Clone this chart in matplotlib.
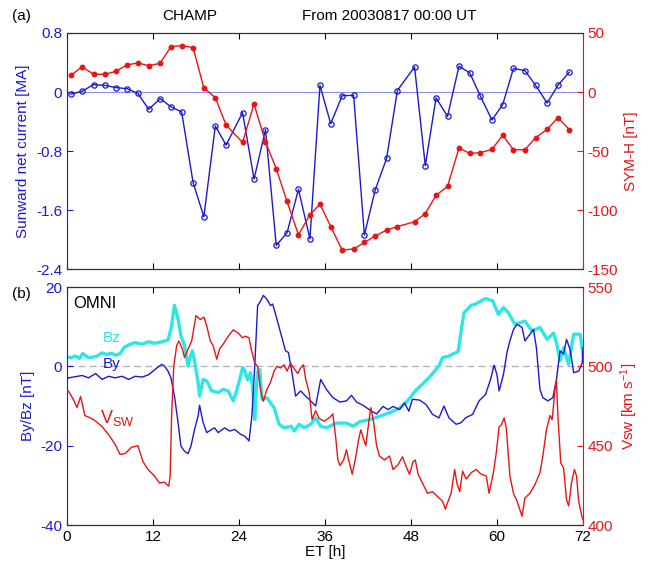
import numpy as np
import matplotlib
matplotlib.use('Agg')
import matplotlib.pyplot as plt

plt.rcParams['font.family'] = ['Liberation Sans', 'DejaVu Sans']
plt.rcParams['axes.unicode_minus'] = False
plt.rcParams['mathtext.fontset'] = 'custom'
plt.rcParams['mathtext.rm'] = 'Liberation Sans'
plt.rcParams['mathtext.it'] = 'Liberation Sans:italic'

# CHAMP orbit values (ET in hours)
champ_t = [0.56, 2.1, 3.7, 5.3, 6.8, 8.4, 9.9, 11.4, 13.0, 14.5, 16.0, 17.6, 19.1, 20.7, 22.2,
           24.5, 26.1, 27.7, 29.2, 30.7, 32.3, 33.9, 35.3, 36.8, 38.4, 40.0, 41.5, 43.0, 44.6,
           46.1, 48.5, 50.0, 51.5, 53.1, 54.7, 56.2, 57.7, 59.3, 60.8, 62.3, 63.9, 65.4, 67.0,
           68.5, 70.1]
net_current = [-0.03, 0.01, 0.10, 0.09, 0.06, 0.045, -0.02, -0.235, -0.09, -0.2, -0.27, -1.23,
               -1.69, -0.46, -0.72, -0.28, -1.18, -0.51, -2.08, -1.91, -1.32, -1.99, 0.09, -0.43,
               -0.05, -0.045, -1.94, -1.33, -0.90, 0.02, 0.34, -1.0, -0.08, -0.33, 0.35, 0.26,
               -0.06, -0.38, -0.17, 0.32, 0.29, 0.09, -0.15, 0.09, 0.27]
symh = [14.1, 21.5, 15, 15, 17.5, 23, 24.6, 22.3, 24.3, 38.4, 39.3, 37.6, 3.4, -4.8, -28,
        -42.7, -10.2, -42.4, -65, -92.7, -121, -104, -95, -114, -134, -133, -127.5, -122,
        -117, -114, -110, -103, -87.5, -80, -47.5, -52, -51.4, -48.6, -36.7, -48.9, -48.9,
        -38.7, -31.6, -21.8, -31.9]

# OMNI series as (ET, value)
bz_pts = [(0, 2.3), (0.6, 2.2), (1.2, 2.6), (1.7, 2.0), (2.2, 3.2), (3.0, 2.2), (3.6, 2.3),
          (4.2, 2.6), (4.9, 3.4), (5.5, 3.0), (6.2, 3.3), (6.8, 2.8), (7.4, 3.2), (8.0, 4.8),
          (8.6, 5.4), (9.5, 6.0), (10.5, 5.6), (11.4, 6.2), (12.2, 5.8), (13.2, 6.2), (14.1, 6.6),
          (14.5, 9.3), (15.0, 15.4), (15.5, 11.9), (15.9, 7.7), (16.4, 5.2), (16.9, 0.1),
          (17.1, 1.8), (17.5, 3.9), (17.8, 1.4), (18.3, -4.1), (18.5, -7.5), (19.0, -3.3),
          (19.5, -3.7), (20.2, -6.2), (21.1, -6.6), (21.8, -5.8), (22.5, -6.2), (23.2, -8.7),
          (23.6, -6.6), (24.1, -3.3), (24.5, -0.3), (24.8, -1.0), (25.2, -3.4), (25.6, -1.6),
          (25.9, -5.0), (26.2, -13.4), (26.4, -6.0), (26.6, -1.5), (26.9, -0.8), (27.2, -8.3),
          (27.9, -7.9), (28.4, -9.2), (28.9, -10.4), (29.6, -14.6), (30.3, -15.5), (31.3, -15.1),
          (31.7, -16.3), (32.4, -14.6), (33.1, -15.5), (34.0, -14.6), (34.7, -13.0), (35.4, -15.1),
          (36.2, -15.5), (37.6, -14.3), (39.0, -14.3), (39.9, -15.1), (40.9, -13.9), (42.3, -13.4),
          (43.6, -12.6), (45.0, -11.7), (46.4, -10.5), (47.3, -9.2), (47.7, -8.3), (48.7, -6.0),
          (49.6, -4.5), (50.5, -2.9), (51.9, 0.1), (52.4, 2.2), (53.3, 2.6), (54.3, 3.5),
          (54.6, 3.8), (55.0, 9.0), (55.4, 13.5), (56.4, 15.4), (57.0, 15.7), (58.4, 17.1),
          (59.4, 16.5), (60.2, 13.1), (60.9, 14.8), (61.6, 13.5), (62.5, 10.6), (63.9, 11.4),
          (64.9, 8.9), (66.0, 9.8), (67.0, 6.8), (67.9, 8.4), (68.3, 6.0), (68.8, 1.4),
          (69.3, 4.7), (70.0, 0.5), (70.7, 8.1), (71.6, 8.1), (72.0, 3.0)]
by_pts = [(0, -3.4), (0.2, -2.9), (1.2, -2.6), (2.1, -2.3), (3.0, -2.9), (4.0, -1.8), (4.9, -3.3),
          (5.8, -2.5), (6.7, -2.9), (7.7, -2.5), (8.6, -3.3), (9.5, -2.5), (10.5, -2.7),
          (11.4, -2.1), (12.2, -0.9), (13.2, 0.5), (13.6, 0.1), (14.1, -1.2), (14.5, -2.9),
          (15.0, -7.5), (15.5, -14.2), (15.9, -20.1), (16.4, -21.4), (16.9, -22.0), (17.3, -20.1),
          (17.8, -15.9), (18.3, -12.5), (18.5, -9.8), (19.0, -14.2), (19.5, -16.7), (20.2, -15.9),
          (20.6, -15.5), (21.1, -16.7), (22.0, -15.5), (22.7, -16.3), (23.4, -15.9), (24.2, -17.1),
          (24.8, -17.6), (25.4, -18.8), (25.8, -12.5), (26.2, 0.1), (26.6, 15.3), (26.9, 16.1),
          (27.4, 17.9), (27.9, 16.9), (28.4, 15.3), (28.7, 15.7), (29.3, 11.9), (30.0, 7.2),
          (30.5, 3.9), (30.9, 3.5), (31.4, -1.6), (31.9, -7.5), (32.6, -6.2), (33.3, -7.5),
          (34.0, -8.7), (34.7, -10.0), (35.4, -3.3), (36.2, -5.8), (37.1, -7.9), (38.1, -9.0),
          (39.0, -8.7), (39.7, -7.3), (40.4, -9.0), (41.3, -9.8), (42.5, -11.3), (43.2, -12.0),
          (44.1, -10.1), (44.8, -10.9), (45.5, -10.1), (46.4, -10.9), (47.1, -9.2), (47.7, -11.3),
          (48.2, -8.3), (49.2, -8.5), (50.1, -9.6), (51.0, -12.1), (51.9, -13.0), (52.6, -10.0),
          (53.3, -13.0), (54.3, -14.6), (55.0, -14.2), (55.6, -13.0), (56.6, -12.1), (57.5, -8.7),
          (58.4, -7.1), (59.1, -3.3), (59.6, 0.3), (60.0, -2.1), (60.3, -6.2), (60.9, -2.1),
          (61.4, 3.5), (61.8, 6.4), (62.3, 9.3), (62.8, 10.6), (63.5, 9.8), (63.9, 6.4),
          (64.6, 8.1), (65.1, 9.3), (65.5, 4.7), (66.0, -5.8), (66.4, -7.9), (67.1, -8.7),
          (67.8, -7.9), (68.3, -3.3), (68.8, 3.9), (69.3, 3.1), (69.7, 6.8), (70.2, 4.3),
          (70.7, -1.6), (71.4, -1.2), (71.9, 0.9), (72.0, 4.7)]
vsw_pts = [(0, 484), (0.2, 484.5), (0.9, 479), (1.4, 474), (1.9, 481), (2.3, 473), (2.5, 469),
           (3.5, 467), (4.0, 465.5), (4.9, 462), (5.8, 457), (6.7, 451), (7.4, 444.5), (8.1, 445),
           (9.0, 449), (9.9, 450), (10.6, 440), (11.3, 435), (12.2, 431), (12.9, 426.5),
           (13.6, 427), (14.2, 424.5), (14.4, 431), (14.6, 469), (14.9, 500), (15.3, 513),
           (15.6, 516), (16.1, 511), (16.4, 505.5), (17.0, 512), (17.4, 516), (18.0, 532),
           (18.6, 529.5), (19.1, 531), (19.5, 525.5), (20.0, 516), (20.4, 513), (20.9, 504.5),
           (21.3, 511), (21.8, 514), (22.5, 519), (23.2, 523), (23.9, 521), (24.5, 518),
           (24.9, 519), (25.4, 518), (25.7, 511), (26.2, 502), (26.6, 500), (27.0, 485.5),
           (27.4, 478), (27.9, 485.5), (28.4, 490), (28.9, 497), (29.3, 500), (29.8, 499),
           (30.3, 501), (30.7, 497), (31.2, 502), (31.7, 498.5), (32.2, 495.5), (32.6, 499),
           (33.0, 501), (33.3, 492), (33.8, 483.5), (34.2, 466.5), (34.7, 472), (35.2, 467),
           (35.9, 465.5), (36.7, 468), (37.1, 470), (37.5, 455), (37.8, 441), (38.1, 437.5),
           (38.6, 441), (39.0, 447.5), (39.3, 441), (39.8, 432), (40.3, 443), (40.7, 454),
           (41.0, 460), (41.4, 454), (41.7, 450), (42.1, 464.5), (42.4, 474), (42.8, 464.5),
           (43.2, 450), (43.6, 443.5), (44.3, 441), (45.0, 443.5), (45.5, 435), (46.2, 438),
           (46.8, 443), (47.4, 436), (47.8, 432), (48.3, 440), (48.6, 441), (49.0, 432),
           (49.6, 426.5), (50.3, 420), (51.0, 421), (51.7, 418), (52.4, 415), (52.8, 410),
           (53.1, 414), (53.6, 420), (54.1, 435), (54.4, 426.5), (54.8, 421), (55.2, 434),
           (55.7, 429), (56.4, 433), (57.1, 435), (57.8, 432), (58.5, 431), (58.9, 420),
           (59.5, 433), (59.9, 445.5), (60.3, 462), (60.6, 463), (61.0, 467.5), (61.3, 461),
           (61.8, 431), (62.3, 420), (62.8, 415), (63.5, 405.5), (63.9, 417), (64.6, 420),
           (65.3, 425.5), (66.0, 433), (66.4, 443.5), (66.9, 460), (67.4, 469), (67.7, 466.5),
           (68.1, 485.5), (68.3, 491), (68.5, 469), (68.9, 439), (69.3, 436), (69.7, 416),
           (70.0, 412), (70.4, 426.5), (70.8, 435), (71.1, 431), (71.4, 415), (71.9, 404.5),
           (72.0, 403.5)]

et_ticks = [0, 12, 24, 36, 48, 60, 72]
cur_ticks = [0.8, 0, -0.8, -1.6, -2.4]
cur_labels = ['0.8', '0', '-0.8', '-1.6', '-2.4']
symh_ticks = [50, 0, -50, -100, -150]
b_ticks = [20, 0, -20, -40]
vsw_ticks = [550, 500, 450, 400]

BLUE = '#1a1ad0'
RED = '#e81515'
CYAN = '#2ee6e6'
FS = 11


def style_pair(ax, axr, lcol, rcol):
    ax.spines['right'].set_visible(False)
    axr.spines['left'].set_visible(False)
    ax.spines['left'].set_color(lcol)
    axr.spines['right'].set_color(rcol)
    for a in (ax, axr):
        a.spines['top'].set_color('#303030')
        a.spines['bottom'].set_color('#303030')
    ax.tick_params(axis='y', colors=lcol, direction='in', length=4, labelsize=FS)
    axr.tick_params(axis='y', colors=rcol, direction='in', length=4, labelsize=FS)
    ax.tick_params(axis='x', direction='in', top=True, length=4, labelsize=FS)
    axr.tick_params(axis='x', direction='in', top=True, length=4)
    ax.set_xlim(0, 72)
    ax.set_xticks(et_ticks)


fig = plt.figure(figsize=(6.51, 5.64), dpi=100)

# (a) CHAMP
ax1 = fig.add_axes([0.1029, 0.523, 0.7926, 0.4185])
ax1r = ax1.twinx()
style_pair(ax1, ax1r, BLUE, RED)
ax1.axhline(0, color='#8c8cf0', lw=0.8, zorder=1)
ax1.plot(champ_t, net_current, '-o', color=BLUE, lw=1.0, ms=3.8, mfc='none', mew=0.9)
ax1r.plot(champ_t, symh, '-o', color=RED, lw=1.0, ms=3.2, mec=RED)
ax1.set_ylim(-2.4, 0.8)
ax1.set_yticks(cur_ticks, cur_labels)
ax1r.set_ylim(-150, 50)
ax1r.set_yticks(symh_ticks)
ax1.tick_params(axis='x', labelbottom=False)
ax1.set_ylabel('Sunward net current [MA]', color=BLUE, fontsize=FS, labelpad=4)
ax1r.set_ylabel('SYM-H [nT]', color=RED, fontsize=FS, labelpad=4)
fig.text(0.018, 0.972, '(a)', fontsize=FS, va='center')
fig.text(0.292, 0.972, 'CHAMP', fontsize=FS, ha='center', va='center')
fig.text(0.464, 0.972, 'From 20030817 00:00 UT', fontsize=FS, ha='left', va='center')

# (b) OMNI
bz_t, bz = np.array(bz_pts).T
by_t, by = np.array(by_pts).T
vsw_t, vsw = np.array(vsw_pts).T

ax2 = fig.add_axes([0.1029, 0.0691, 0.7926, 0.422])
ax2r = ax2.twinx()
style_pair(ax2, ax2r, BLUE, RED)
ax2.axhline(0, color='#b4b4b4', lw=1.0, ls='--', dashes=(5, 3), zorder=1)
ax2.plot(bz_t, bz, color=CYAN, lw=2.4)
ax2.plot(by_t, by, color=BLUE, lw=1.0)
ax2r.plot(vsw_t, vsw, color=RED, lw=1.0)
ax2.set_ylim(-40, 20)
ax2.set_yticks(b_ticks)
ax2r.set_ylim(400, 550)
ax2r.set_yticks(vsw_ticks)
ax2.set_xlabel('ET [h]', fontsize=FS, labelpad=1)
ax2.set_ylabel('By/Bz [nT]', color=BLUE, fontsize=FS, labelpad=4)
ax2r.set_ylabel(r'Vsw [km s$^{-1}$]', color=RED, fontsize=FS, labelpad=4)
ax2.text(0.012, 0.93, 'OMNI', transform=ax2.transAxes, fontsize=12, va='center')
ax2.text(5.0, 7.2, 'Bz', color=CYAN, fontsize=FS, va='center')
ax2.text(5.0, 0.6, 'By', color=BLUE, fontsize=FS, va='center')
ax2.text(4.6, -13.0, r'V$_{\mathregular{SW}}$', color=RED, fontsize=13, va='center')
fig.text(0.018, 0.478, '(b)', fontsize=FS, va='center')

fig.savefig('out.png', dpi=100)
